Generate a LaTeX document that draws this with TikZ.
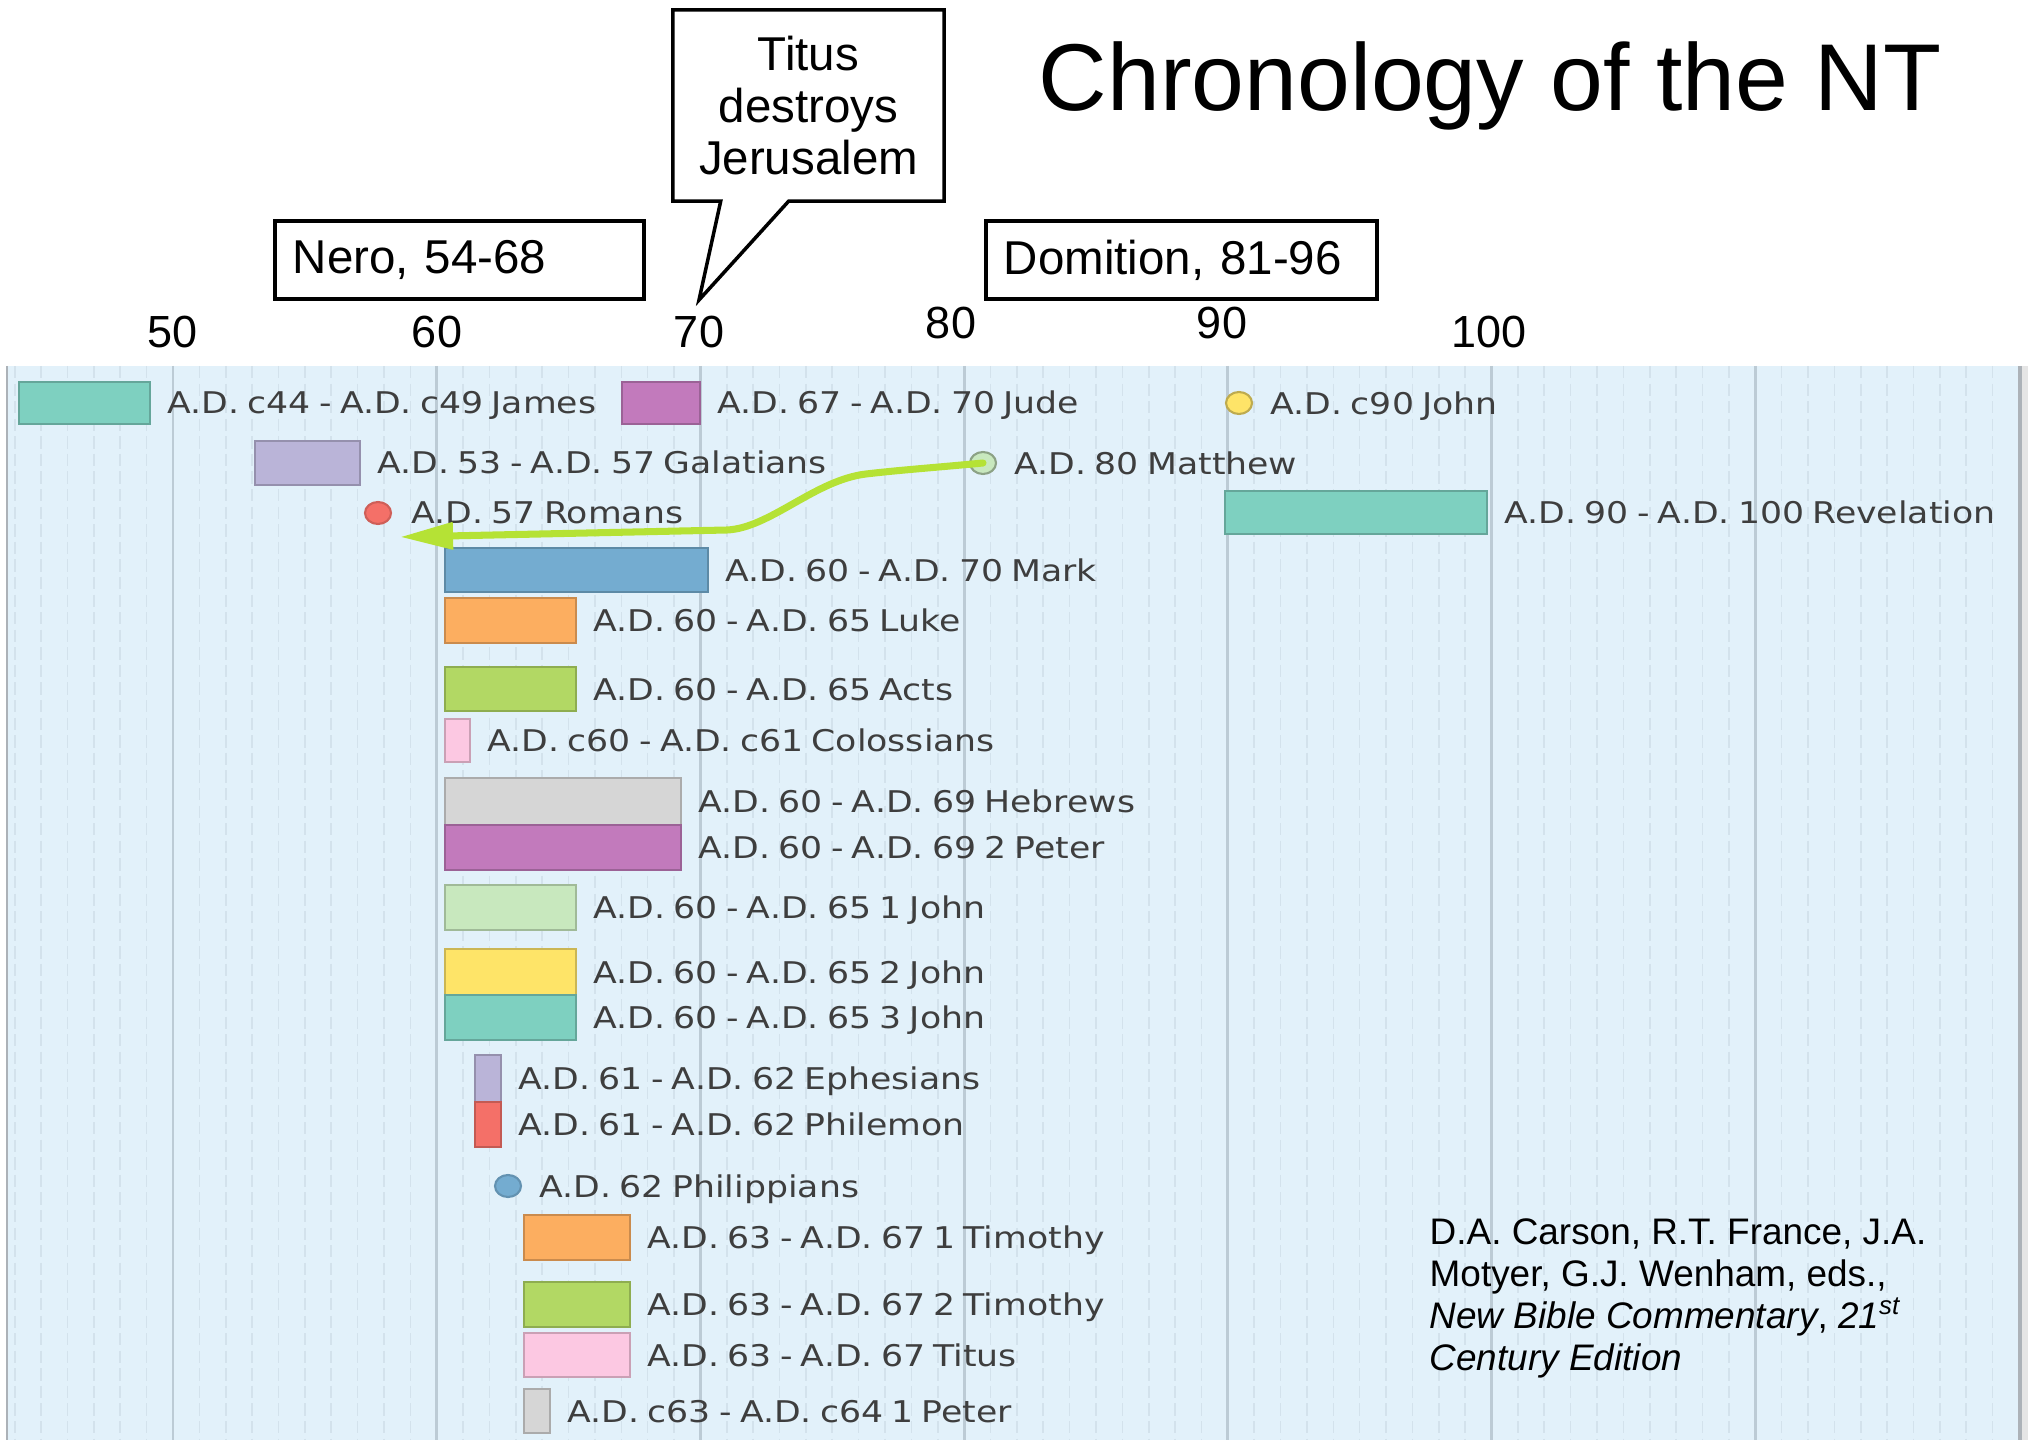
\documentclass[tikz,border=0pt]{standalone}
\usepackage{fontspec}
\setmainfont{Liberation Sans}
\newfontfamily\chartfont[FakeStretch=1.16, WordSpace=0.75]{DejaVu Sans}
\usetikzlibrary{arrows.meta, shapes.geometric, shapes.callouts}

\definecolor{chartbg}{RGB}{226,241,250}
\definecolor{majorgrid}{RGB}{188,203,213}
\definecolor{minorgrid}{RGB}{211,226,236}
\definecolor{framegray}{RGB}{172,178,184}
\definecolor{labelgray}{RGB}{62,62,62}
\definecolor{arrowgreen}{RGB}{181,226,53}
\definecolor{bookteal}{RGB}{126,208,192}
\definecolor{bookmagenta}{RGB}{194,122,188}
\definecolor{booklavender}{RGB}{186,180,216}
\definecolor{bookblue}{RGB}{116,172,208}
\definecolor{bookorange}{RGB}{252,174,96}
\definecolor{bookgreen}{RGB}{178,216,100}
\definecolor{bookpink}{RGB}{252,200,226}
\definecolor{bookgray}{RGB}{214,214,214}
\definecolor{booklightgreen}{RGB}{200,232,190}
\definecolor{bookyellow}{RGB}{254,228,104}
\definecolor{bookred}{RGB}{244,112,104}

\begin{document}
\begin{tikzpicture}[%
        x = 0.01cm,
        y = -0.01cm,
        barbox/.style = {line width = 0.4pt},
        booklabel/.style = {anchor = base west, inner sep = 0pt, text = labelgray,
            font = \chartfont\fontsize{8.5pt}{10pt}\selectfont},
        bookdot/.style = {ellipse, minimum width = 0.26cm, minimum height = 0.22cm,
            inner sep = 0pt, line width = 0.6pt},
        periodbox/.style = {draw, line width = 1pt, minimum height = 0.78cm,
            inner xsep = 0.18cm, align = left, font = \fontsize{13.5pt}{16pt}\selectfont},
        yearlabel/.style = {anchor = base, inner sep = 0pt, font = \fontsize{12.8pt}{15pt}\selectfont},
        mattarrow/.style = {draw = arrowgreen, line width = 2pt, line cap = round,
            line join = round, -{Triangle[length = 0.53cm, width = 0.26cm]}}
    ]

        \useasboundingbox (0, 0) rectangle (2028, 1440);

        % The title and the events above the chart.
        \node[anchor = base west, inner sep = 0pt, font = \fontsize{27pt}{32pt}\selectfont]
            (title) at (1038, 111) {Chronology of the NT};
        \node[periodbox, text width = 3.33cm] (nero) at (459.5, 260) {Nero, 54-68};
        \node[periodbox, text width = 3.55cm] (domitian) at (1181.5, 260) {Domition, 81-96};
        \node[rectangle callout, draw, fill = white, line width = 1pt,
              minimum width = 2.71cm, minimum height = 1.91cm, align = center,
              callout absolute pointer = {(699, 300)}, callout pointer width = 0.68cm,
              font = \fontsize{13.5pt}{14.8pt}\selectfont]
            (titus) at (808.5, 105.5) {Titus\\destroys\\Jerusalem};

        % Year labels over the chart.
        \foreach \yr/\xx/\bl in {50/173/348, 60/437/348, 70/699/348,
                                 80/951/339, 90/1222/339, 100/1489/348}{
            \node[yearlabel] (yr\yr) at (\xx, \bl) {\yr};
        }

        % Chart background and frame.
        \fill[chartbg] (7, 366) rectangle (2020, 1440);
        \fill[black!10] (2021, 366) rectangle (2028, 1440);
        \draw[framegray, line width = 0.6pt] (7, 366) -- (7, 1440);
        \draw[framegray, line width = 0.9pt] (2020, 366) -- (2020, 1440);

        % One dashed line per year, a solid one per decade.
        \foreach \yr in {44, ..., 119}{
            \draw[minorgrid, line width = 0.45pt, dash pattern = on 3.5pt off 1.5pt]
                ({173 + (\yr - 50)*26.37}, 366) -- ++(0, 1074);
        }
        \foreach \yr in {50, 60, ..., 110}{
            \draw[majorgrid, line width = 0.85pt] ({173 + (\yr - 50)*26.37}, 366) -- ++(0, 1074);
        }

        % Bars for the books dated over a span of years.
        \foreach \xa/\xb/\ya/\yb/\col/\txt [count = \i] in {%
                19/150/382/424/bookteal/A.D. c44 - A.D. c49 James,
                622/700/382/424/bookmagenta/A.D. 67 - A.D. 70 Jude,
                255/360/441/485/booklavender/A.D. 53 - A.D. 57 Galatians,
                1225/1487/491/534/bookteal/A.D. 90 - A.D. 100 Revelation,
                445/708/548/592/bookblue/A.D. 60 - A.D. 70 Mark,
                445/576/598/643/bookorange/A.D. 60 - A.D. 65 Luke,
                445/576/667/711/bookgreen/A.D. 60 - A.D. 65 Acts,
                445/470/719/762/bookpink/A.D. c60 - A.D. c61 Colossians,
                445/681/778/825/bookgray/A.D. 60 - A.D. 69 Hebrews,
                445/681/825/870/bookmagenta/A.D. 60 - A.D. 69 2 Peter,
                445/576/885/930/booklightgreen/A.D. 60 - A.D. 65 1 John,
                445/576/949/995/bookyellow/A.D. 60 - A.D. 65 2 John,
                445/576/995/1040/bookteal/A.D. 60 - A.D. 65 3 John,
                475/501/1055/1102/booklavender/A.D. 61 - A.D. 62 Ephesians,
                475/501/1102/1147/bookred/A.D. 61 - A.D. 62 Philemon,
                524/630/1215/1260/bookorange/A.D. 63 - A.D. 67 1 Timothy,
                524/630/1282/1327/bookgreen/A.D. 63 - A.D. 67 2 Timothy,
                524/630/1333/1377/bookpink/A.D. 63 - A.D. 67 Titus,
                524/550/1389/1433/bookgray/A.D. c63 - A.D. c64 1 Peter}{%
            \draw[barbox, fill = \col, draw = \col!80!black] (\xa, \ya) rectangle (\xb, \yb);
            \node[booklabel] (book\i) at ({\xb + 17}, {(\ya + \yb)/2 + 11}) {\txt};
        }

        % Dots for the books dated to one year.
        \node[bookdot, fill = bookyellow, draw = bookyellow!75!black] (john) at (1239, 403) {};
        \node[bookdot, fill = booklightgreen, draw = booklightgreen!70!black] (matt) at (983, 463) {};
        \node[bookdot, fill = bookred, draw = bookred!85!black] (rom) at (378, 513) {};
        \node[bookdot, fill = bookblue, draw = bookblue!85!black] (phil) at (508, 1186) {};
        \node[booklabel] (johnlbl) at ([xshift = 0.17cm, yshift = -0.11cm]john.east) {A.D. c90 John};
        \node[booklabel] (mattlbl) at ([xshift = 0.17cm, yshift = -0.11cm]matt.east) {A.D. 80 Matthew};
        \node[booklabel] (romlbl) at ([xshift = 0.19cm, yshift = -0.10cm]rom.east) {A.D. 57 Romans};
        \node[booklabel] (phillbl) at ([xshift = 0.17cm, yshift = -0.11cm]phil.east) {A.D. 62 Philippians};

        % Green arrow from Matthew back to Romans.
        \coordinate (romtip) at (400, 537);
        \draw[mattarrow] (matt.center) .. controls (930, 468) and (900, 470) .. (866, 474)
            .. controls (815, 480) and (770, 528) .. (727, 530) -- (romtip);

        % Source of the dates.
        \node[anchor = north west, inner sep = 0pt, align = left,
              font = \fontsize{10.5pt}{11.95pt}\selectfont] (source) at (1429, 1218)
            {D.A. Carson, R.T. France, J.A.\\Motyer, G.J. Wenham, eds.,\\
             \textit{New Bible Commentary}, \textit{21\textsuperscript{st}}\\\textit{Century Edition}};
    \end{tikzpicture}
\end{document}
